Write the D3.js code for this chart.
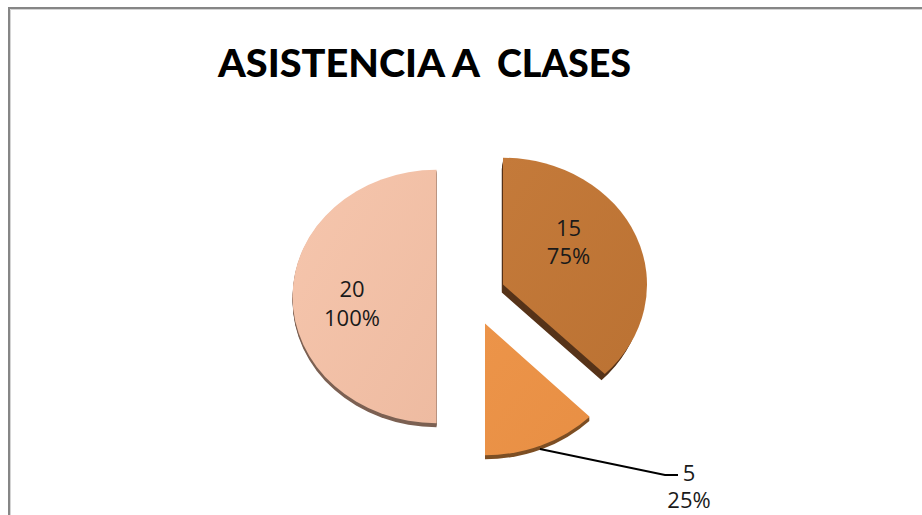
<!DOCTYPE html>
<html>
<head>
<meta charset="utf-8">
<script src="https://cdn.jsdelivr.net/npm/d3@7"></script>
<style>
    html, body { margin: 0; padding: 0; background: #fff; overflow: hidden; }
    svg { display: block; }
</style>
</head>
<body>
<svg id="chart" width="922" height="515"></svg>
<script>
/*
    Chart data
 */
var values = [15, 5, 20];
var percents = ["75%", "25%", "100%"];
var titleWords = ["ASISTENCIA", "A", "CLASES"];

/*
    Slice styles and layout, same order as values
 */
var topColors = [["#c47a3a", "#bb7233"], ["#ec9449", "#e88f44"], ["#f6c6ad", "#eebba1"]];
var sideColors = ["#57341a", "#7d4f24", "#7c6153"];
var sliceOrigin = [[503, 284.5], [485, 323.5], [436.5, 296.5]];
var sliceRadius = [144, 148, 144];
var sliceSquash = [0.88, 0.89, 0.88];
var sliceDepth = [8, 4, 4];
var sideSkew = [0.15, 0, 0];
var sideInset = [3, 0, 0];
var labelPos = [[568.5, 228.3], [689, 473], [352, 289]];
var labelLead = [28, 27.5, 29];

/*
    Left edge and width of each title word
 */
var titleX = [218, 452, 497];
var titleW = [227, 28, 134];

var height = 515;
var width = 922;

var svg = d3.select("#chart");
var defs = svg.append("defs");

// frame of the chart area, only left and top are inside the picture
var frameLine = d3.line();

svg.append("path")
    .attr("d", frameLine([[10.5, height], [10.5, 9.5], [width, 9.5]]))
    .attr("fill", "none")
    .attr("stroke", "#d4d4d4")
    .attr("stroke-width", 1);

svg.append("path")
    .attr("d", frameLine([[9, height], [9, 8], [width, 8]]))
    .attr("fill", "none")
    .attr("stroke", "#868686")
    .attr("stroke-width", 2);

svg.append("text")
    .attr("font-family", "Lato, sans-serif")
    .attr("font-weight", 900)
    .attr("font-size", 38)
    .attr("fill", "#000")
    .selectAll("tspan")
    .data(titleWords)
    .enter()
    .append("tspan")
    .attr("x", function(d, i) { return titleX[i]; })
    .attr("y", 76.5)
    .attr("textLength", function(d, i) { return titleW[i]; })
    .attr("lengthAdjust", "spacingAndGlyphs")
    .text(function(d) { return d; });

var pie = d3.pie().sort(null);
var arcs = pie(values);

arcs.forEach(function(d, i) {
    var grad = defs.append("linearGradient")
        .attr("id", "top" + i)
        .attr("x1", "0").attr("y1", "0")
        .attr("x2", "1").attr("y2", "1");
    grad.append("stop").attr("offset", "0").attr("stop-color", topColors[i][0]);
    grad.append("stop").attr("offset", "1").attr("stop-color", topColors[i][1]);
});

var slices = svg.selectAll(".slice")
    .data(arcs)
    .enter()
    .append("g")
    .attr("class", "slice");

// extruded side first, one copy for each pixel of depth
slices.each(function(d, i) {
    var g = d3.select(this);
    var x0 = sliceOrigin[i][0];
    var y0 = sliceOrigin[i][1];
    var scale = " scale(1," + sliceSquash[i] + ")";
    var topArc = d3.arc().innerRadius(0).outerRadius(sliceRadius[i]);
    var sideArc = d3.arc().innerRadius(0).outerRadius(sliceRadius[i] - sideInset[i]);

    d3.range(sliceDepth[i], 0, -1).forEach(function(dy) {
        g.append("path")
            .attr("transform", "translate(" + (x0 - dy * sideSkew[i]) + "," + (y0 + dy) + ")" + scale)
            .attr("d", sideArc(d))
            .attr("fill", sideColors[i]);
    });

    g.append("path")
        .attr("transform", "translate(" + x0 + "," + y0 + ")" + scale)
        .attr("d", topArc(d))
        .attr("fill", "url(#top" + i + ")");
});

// leader line of the small slice
svg.append("path")
    .attr("d", d3.line()([[540, 449], [665, 475], [678, 475]]))
    .attr("fill", "none")
    .attr("stroke", "#000")
    .attr("stroke-width", 1.8);

var labels = svg.selectAll(".label")
    .data(values)
    .enter()
    .append("text")
    .attr("class", "label")
    .attr("font-family", "'Open Sans', sans-serif")
    .attr("font-size", 22)
    .attr("fill", "#1a1a1a")
    .attr("text-anchor", "middle");

labels.append("tspan")
    .attr("x", function(d, i) { return labelPos[i][0]; })
    .attr("y", function(d, i) { return labelPos[i][1]; })
    .attr("dy", "0.35em")
    .text(function(d) { return d; });

labels.append("tspan")
    .attr("x", function(d, i) { return labelPos[i][0]; })
    .attr("y", function(d, i) { return labelPos[i][1] + labelLead[i]; })
    .attr("dy", "0.35em")
    .text(function(d, i) { return percents[i]; });
</script>
</body>
</html>
